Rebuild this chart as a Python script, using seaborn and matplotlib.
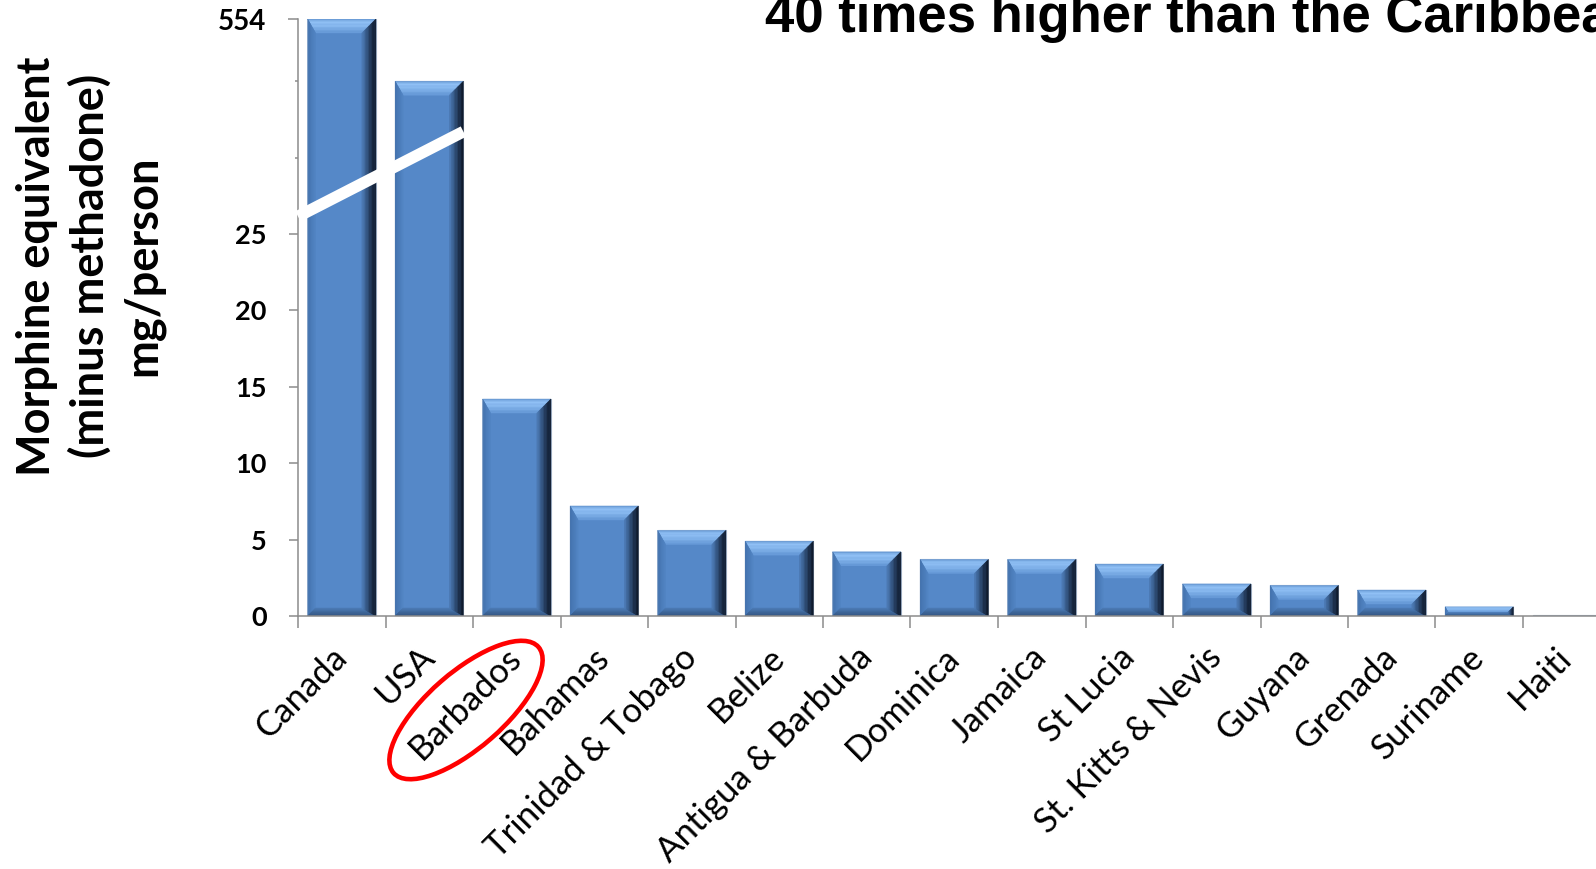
import numpy as np
import pandas as pd
import matplotlib
matplotlib.use("Agg")
import matplotlib.pyplot as plt
import seaborn as sns
from matplotlib.patches import Polygon, Ellipse
from matplotlib.colors import to_rgb
from matplotlib.transforms import IdentityTransform

# ---- data -------------------------------------------------------------
countries = ["Canada", "USA", "Barbados", "Bahamas", "Trinidad & Tobago", "Belize",
             "Antigua & Barbuda", "Dominica", "Jamaica", "St Lucia",
             "St. Kitts & Nevis", "Guyana", "Grenada", "Suriname", "Haiti"]
mg_per_person = [554, 401, 14.2, 7.2, 5.6, 4.9, 4.2, 3.7, 3.7, 3.4,
                 2.1, 2.0, 1.7, 0.6, 0.05]
lower_ticks = [0, 5, 10, 15, 20, 25]
lower_labels = ["0", "5", "10", "15", "20", "25"]
top_tick = 554
top_label = "554"
title_text = "40 times higher than the Caribbean"
ylabel_text = "Morphine equivalent\n(minus methadone)\nmg/person"
highlight = "Barbados"

# ---- broken value axis: linear up to 25, compressed above -------------
BREAK = 25.0
TOP = 554.0
TOP_POS = 39.07
K = (TOP_POS - BREAK) / (TOP - BREAK)


def fwd(v):
    v = np.asarray(v, float)
    return np.where(v <= BREAK, v, BREAK + (v - BREAK) * K)


def inv(d):
    d = np.asarray(d, float)
    return np.where(d <= BREAK, d, BREAK + (d - BREAK) / K)


# ---- figure -----------------------------------------------------------
sns.set_style("white")
plt.rcParams["font.family"] = ["Lato", "DejaVu Sans"]
plt.rcParams["font.weight"] = "bold"
plt.rcParams["text.color"] = "black"
plt.rcParams["xtick.color"] = "black"
plt.rcParams["ytick.color"] = "black"

W, H = 1596, 869
fig = plt.figure(figsize=(W / 100, H / 100), dpi=100)
ax = fig.add_axes([298 / W, 253 / H, 1312.5 / W, 597 / H])

df = pd.DataFrame({"country": countries, "value": mg_per_person})
sns.barplot(data=df, x="country", y="value", color="#5588C8", saturation=1,
            width=0.78, ax=ax, edgecolor="#9FB0C6", linewidth=0.8)

ax.set_yscale("function", functions=(fwd, inv))
ax.set_ylim(0, TOP)
ax.set_xlim(-0.5, len(countries) - 0.5)
ax.set_xlabel("")
ax.set_ylabel("")

# ---- bevelled bar faces ---------------------------------------------
to_px = ax.transData.transform
to_data = ax.transData.inverted().transform


def ramp(stops, t):
    ts = [s[0] for s in stops]
    cols = np.array([to_rgb(s[1]) for s in stops])
    return tuple(np.interp(t, ts, cols[:, i]) for i in range(3))


top_stops = [(0, "#5F90CC"), (0.2, "#92C2F6"), (0.55, "#86B7EE"), (1, "#6497D6")]
right_stops = [(0, "#0D1726"), (0.35, "#1C2F4B"), (0.75, "#3A5F8F"), (1, "#4F7EBA")]
bottom_stops = [(0, "#31517A"), (1, "#4B7AB5")]
left_stops = [(0, "#4271AC"), (1, "#5285C4")]

bars = list(ax.patches)
for p in bars:
    x0, w, h = p.get_x(), p.get_width(), p.get_height()
    L, B = to_px((x0, 0))
    R, T = to_px((x0 + w, h))
    hp = T - B
    if hp < 2:
        continue
    bt, bb, bl, br = 14.0, 8.0, 8.0, 14.0
    s = min(1.0, hp / (bt + bb))
    bt, bb, bl, br = bt * s, bb * s, bl * s, br * s
    Li, Ri, Ti, Bi = L + bl, R - br, T - bt, B + bb
    faces = [
        (((L, T), (R, T)), ((Li, Ti), (Ri, Ti)), top_stops),
        (((L, B), (L, T)), ((Li, Bi), (Li, Ti)), left_stops),
        (((R, B), (L, B)), ((Ri, Bi), (Li, Bi)), bottom_stops),
        (((R, T), (R, B)), ((Ri, Ti), (Ri, Bi)), right_stops),
    ]
    n = 10
    for (o1, o2), (i1, i2), stops in faces:
        o1, o2, i1, i2 = map(np.array, (o1, o2, i1, i2))
        for j in range(n):
            t0, t1 = j / n, (j + 1) / n
            pts = np.array([o1 + (i1 - o1) * t0, o2 + (i2 - o2) * t0,
                            o2 + (i2 - o2) * t1, o1 + (i1 - o1) * t1])
            c = ramp(stops, (t0 + t1) / 2)
            ax.add_patch(Polygon(to_data(pts), closed=True, facecolor=c,
                                 edgecolor=c, linewidth=0.3, zorder=p.get_zorder() + 0.1))

# ---- axis break marker across the two tall bars ----------------------
bx = [-0.5, 1 + 0.39]
by = inv([26.15, 31.7])
ax.plot(bx, by, color="white", linewidth=8.4, solid_capstyle="butt",
        clip_on=False, zorder=10)

# ---- ticks and spines -----------------------------------------------
sns.despine(ax=ax)
for side in ("left", "bottom"):
    ax.spines[side].set_color("#8C8C8C")
    ax.spines[side].set_linewidth(1.1)

# lower linear part: labelled major ticks
ax.set_yticks(lower_ticks)
ax.set_yticklabels(lower_labels)
ax.tick_params(axis="y", which="major", left=True, direction="out", length=6.5,
               width=1.1, color="#8C8C8C", labelcolor="black", labelsize=19.5, pad=16)
# compressed upper part: two unlabelled marks and the top value
upper_pos = list(inv([30, 35])) + [top_tick]
ax.set_yticks(upper_pos, minor=True)
ax.set_yticklabels(["", "", top_label], minor=True)
ax.tick_params(axis="y", which="minor", left=True, direction="out", length=2,
               width=1.1, color="#8C8C8C", labelcolor="black", labelsize=20, pad=21)
top_tick_obj = ax.yaxis.get_minor_ticks()[-1]
top_tick_obj.tick1line.set_color("black")
top_tick_obj.tick1line.set_markersize(7)

ax.set_xticks(range(len(countries)))
ax.set_xticklabels(countries, rotation=45, ha="right", va="center",
                   rotation_mode="anchor", fontsize=25, fontweight="normal")
ax.set_xticks(np.arange(-0.5, len(countries)), minor=True)
ax.tick_params(axis="x", which="major", bottom=True, length=0, pad=26,
               labelcolor="black")
ax.tick_params(axis="x", which="minor", bottom=True, direction="out", length=8.6,
               width=1.1, color="#8C8C8C")

# ---- text -----------------------------------------------------------
fig.text(90 / W, 1 - 266 / H, ylabel_text, rotation=90, ha="center", va="center",
         multialignment="center", fontsize=32.5, fontweight="bold", linespacing=1.3,
         color="black")
fig.text(765 / W, 1 - 32 / H, title_text, fontsize=38, fontweight="bold",
         family=["Liberation Sans", "DejaVu Sans"], ha="left", va="baseline",
         color="black")

# ---- ring around the highlighted country label ----------------------
fig.add_artist(Ellipse((466, H - 710), 192, 76, angle=41, fill=False,
                       edgecolor="#FF0000", linewidth=3.3,
                       transform=IdentityTransform()))

fig.savefig("out.png", dpi=100)
